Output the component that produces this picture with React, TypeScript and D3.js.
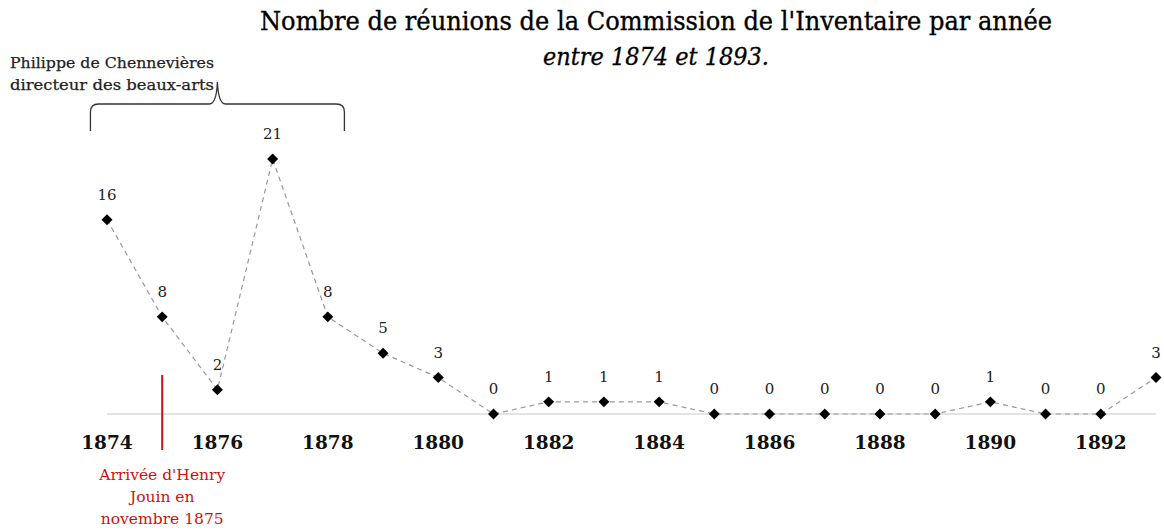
import React from "react";
import * as d3 from "d3";

const years: number[] = [1874, 1875, 1876, 1877, 1878, 1879, 1880, 1881, 1882, 1883, 1884, 1885, 1886, 1887, 1888, 1889, 1890, 1891, 1892, 1893];
const meetings: number[] = [16, 8, 2, 21, 8, 5, 3, 0, 1, 1, 1, 0, 0, 0, 0, 0, 1, 0, 0, 3];
const tickYears: number[] = [1874, 1876, 1878, 1880, 1882, 1884, 1886, 1888, 1890, 1892];
const titleText = "Nombre de réunions de la Commission de l'Inventaire par année";
const subtitleText = "entre 1874 et 1893.";
const braceLines: string[] = ["Philippe de Chennevières", "directeur des beaux-arts"];
const braceRange: number[] = [1873.7, 1876, 1878.3];
const markerYear = 1875;
const markerLines: string[] = ["Arrivée d'Henry", "Jouin en", "novembre 1875"];

const W = 1164;
const H = 532;
const FONT = "'DejaVu Serif', 'Liberation Serif', serif";

export default function App() {
  const x = d3.scaleLinear().domain([1874, 1893]).range([107, 1156]);
  const y = d3.scaleLinear().domain([0, 21]).range([414, 159]);
  const line = d3
    .line<number>()
    .x((_, i) => x(years[i]))
    .y((d) => y(d));
  const diamond = d3.symbol().type(d3.symbolSquare).size(60)();

  const [bl, bm, br] = braceRange.map((v) => x(v));
  const bTop = 104;
  const bBot = 131;
  const bTip = 82;
  const bracePath = `M${bl},${bBot} L${bl},${bTop + 8} Q${bl},${bTop} ${bl + 8},${bTop} L${bm - 8},${bTop} Q${bm - 1},${bTop} ${bm},${bTip} Q${bm + 1},${bTop} ${bm + 8},${bTop} L${br - 8},${bTop} Q${br},${bTop} ${br},${bTop + 8} L${br},${bBot}`;

  return (
    <div style={{ position: "fixed", left: 0, top: 0, width: W, height: H, overflow: "hidden", background: "#fff" }}>
      <svg width={W} height={H} style={{ display: "block" }} fontFamily={FONT}>
        <text x={656} y={30} textAnchor="middle" fontSize={25.5} fill="#000" stroke="#000" strokeWidth={0.35} textLength={792} lengthAdjust="spacingAndGlyphs">
          {titleText}
        </text>
        <text x={656} y={65} textAnchor="middle" fontSize={24} fontStyle="italic" fill="#000" stroke="#000" strokeWidth={0.3} textLength={226} lengthAdjust="spacingAndGlyphs">
          {subtitleText}
        </text>

        {braceLines.map((t, i) => (
          <text key={t} x={10} y={68 + i * 22} fontSize={15.5} fill="#222" stroke="#222" strokeWidth={0.25} textLength={204} lengthAdjust="spacingAndGlyphs">
            {t}
          </text>
        ))}
        <path d={bracePath} fill="none" stroke="#333" strokeWidth={1.3} />

        <line x1={x(1874)} x2={x(1893)} y1={y(0)} y2={y(0)} stroke="#c8c8c8" strokeWidth={1} />

        <line x1={x(markerYear)} x2={x(markerYear)} y1={375} y2={450} stroke="#cc1111" strokeWidth={2} />
        {markerLines.map((t, i) => (
          <text key={t} x={x(markerYear)} y={480 + i * 22} textAnchor="middle" fontSize={15.5} fill="#cc1111">
            {t}
          </text>
        ))}

        <path d={line(meetings) || ""} fill="none" stroke="#999" strokeWidth={1.2} strokeDasharray="5,4" />

        {meetings.map((v, i) => (
          <g key={years[i]}>
            <path d={diamond} transform={`translate(${x(years[i])},${y(v)}) rotate(45)`} fill="#000" />
            <text x={x(years[i])} y={y(v) - 20} textAnchor="middle" fontSize={15} fill="#222">
              {v}
            </text>
          </g>
        ))}

        {tickYears.map((t) => (
          <text key={t} x={x(t)} y={449} textAnchor="middle" fontSize={18.5} fontWeight="bold" fill="#111">
            {t}
          </text>
        ))}
      </svg>
    </div>
  );
}
